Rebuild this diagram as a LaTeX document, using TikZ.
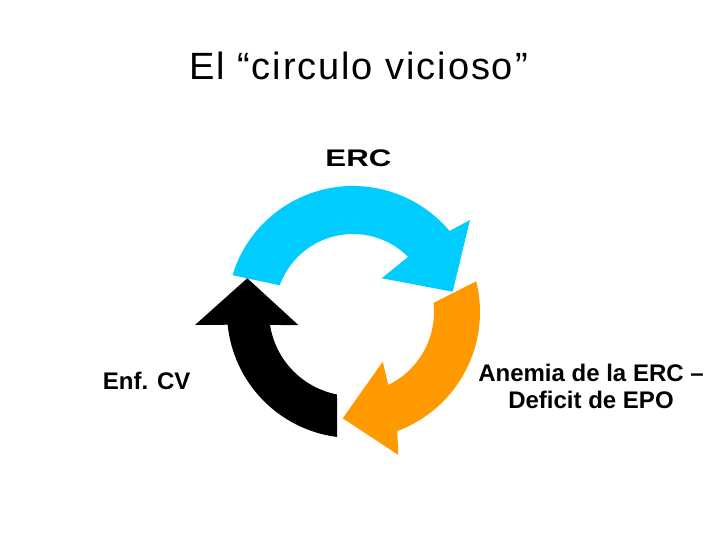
\documentclass[tikz,border=0pt]{standalone}
\usepackage{fontspec}
\setmainfont{Liberation Sans}
\newfontfamily\titlefont[LetterSpace=5]{Liberation Sans}
\definecolor{ercblue}{RGB}{0,204,255}
\definecolor{epoorange}{RGB}{255,153,0}

\begin{document}
\begin{tikzpicture}[
  x=1pt, y=1pt,
  titlelbl/.style={anchor=base, inner sep=0pt,
    font=\titlefont\fontsize{38}{45}\selectfont},
  cyclelbl/.style={anchor=base, inner sep=0pt, align=center,
    font=\bfseries\fontsize{24}{27.3}\selectfont},
  ringarr/.style={fill=#1, draw=none},
]
\useasboundingbox (0,0) rectangle (720,540);

% ============================================================
% TITLE
% ============================================================
\node[titlelbl] (title) at (358.5,460.7) {El “circulo vicioso”};

% ============================================================
% LABELS ROUND THE CYCLE
% ============================================================
\node[cyclelbl] (erc) at (358.4,373.3) {\scalebox{1.3}[1]{ERC}};
\node[cyclelbl] (cv) at (146.7,150.7) {Enf. CV};
\node[cyclelbl] (epo) at (591,131) {Anemia de la ERC –\\Deficit de EPO};

% ============================================================
% CYCLE ARROWS
% ============================================================
\coordinate (hub) at (353,228);

\begin{scope}[shift={(hub)}]
% ERC -> anemia
\fill[ringarr=ercblue] (163:126) arc[start angle=163, end angle=40, radius=126]
  -- (38.2:148.8) -- (11.5:101.7) -- (49.6:44.3) -- (45:78)
  arc[start angle=45, end angle=160, radius=78] -- cycle;
% anemia -> Enf. CV
\fill[ringarr=epoorange] (14:127) arc[start angle=14, end angle=-69.6, radius=127]
  -- (-72.4:150) -- (-95.5:106.8) -- (-59.1:57.9) -- (-64.2:81)
  arc[start angle=-64.2, end angle=6.4, radius=81] -- cycle;
% Enf. CV -> ERC
\fill[ringarr=black] (-97.2:126) arc[start angle=-97.2, end angle=-174.2, radius=126]
  -- (184.7:158.5) -- (162.3:111) -- (193.4:56.2) -- (188.9:84)
  arc[start angle=-171.1, end angle=-101, radius=84] -- cycle;
\end{scope}

\end{tikzpicture}
\end{document}
